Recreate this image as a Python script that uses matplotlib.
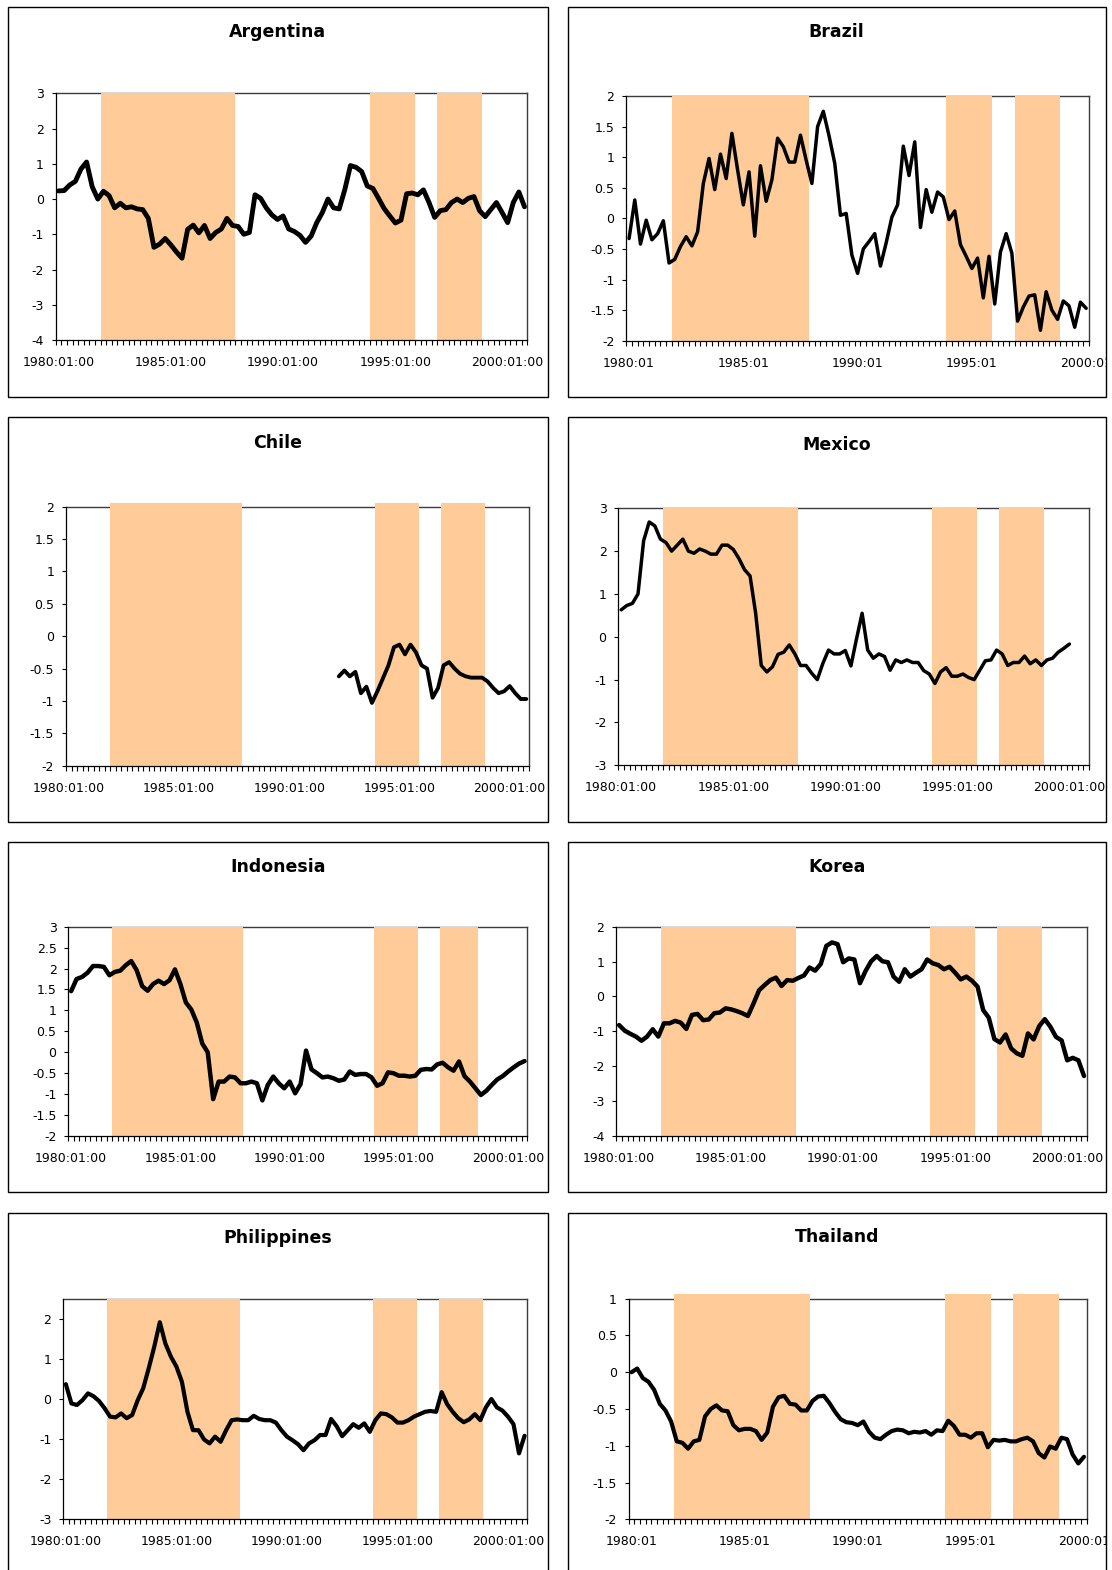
import matplotlib
matplotlib.use("Agg")
import matplotlib.pyplot as plt
from matplotlib.patches import Rectangle
from matplotlib.transforms import Bbox, TransformedBbox
from matplotlib.ticker import FuncFormatter
import numpy as np

plt.rcParams["font.family"] = ["DejaVu Sans"]
plt.rcParams["axes.unicode_minus"] = False

# Quarterly series, 1980:01 onwards (one value per quarter)
argentina = [0.23, 0.24, 0.40, 0.50, 0.85, 1.05, 0.35, 0.00, 0.22, 0.10,
             -0.25, -0.12, -0.25, -0.22, -0.28, -0.30, -0.55, -1.37, -1.28, -1.12,
             -1.30, -1.50, -1.68, -0.86, -0.74, -0.96, -0.75, -1.12, -0.95, -0.85,
             -0.55, -0.75, -0.78, -1.00, -0.95, 0.12, 0.02, -0.25, -0.45, -0.58,
             -0.48, -0.85, -0.92, -1.03, -1.23, -1.05, -0.67, -0.38, 0.00, -0.25,
             -0.28, 0.27, 0.95, 0.90, 0.78, 0.37, 0.30, 0.02, -0.27, -0.48,
             -0.68, -0.60, 0.15, 0.17, 0.12, 0.26, -0.10, -0.52, -0.33, -0.30,
             -0.10, 0.00, -0.10, 0.02, 0.07, -0.33, -0.50, -0.30, -0.10, -0.38,
             -0.67, -0.10, 0.20, -0.22]

brazil = [-0.33, 0.30, -0.42, -0.03, -0.35, -0.25, -0.04, -0.73, -0.67, -0.46,
          -0.30, -0.45, -0.22, 0.57, 0.98, 0.47, 1.05, 0.65, 1.39, 0.79,
          0.22, 0.76, -0.29, 0.86, 0.28, 0.63, 1.31, 1.17, 0.92, 0.92,
          1.36, 0.95, 0.57, 1.50, 1.75, 1.35, 0.90, 0.05, 0.08, -0.60,
          -0.90, -0.50, -0.38, -0.25, -0.78, -0.40, 0.02, 0.22, 1.18, 0.70,
          1.25, -0.15, 0.47, 0.10, 0.43, 0.35, -0.02, 0.12, -0.43, -0.62,
          -0.82, -0.65, -1.30, -0.62, -1.40, -0.55, -0.25, -0.57, -1.68, -1.45,
          -1.27, -1.25, -1.83, -1.20, -1.50, -1.65, -1.35, -1.43, -1.78, -1.37,
          -1.47]

# Chile series begins in 1992:02
chile = [None] * 49 + [
    -0.62, -0.53, -0.62, -0.55, -0.88, -0.78, -1.03, -0.85, -0.65, -0.45,
    -0.17, -0.13, -0.28, -0.13, -0.25, -0.45, -0.50, -0.95, -0.80, -0.45,
    -0.40, -0.50, -0.58, -0.62, -0.64, -0.64, -0.64, -0.70, -0.80, -0.88,
    -0.85, -0.77, -0.88, -0.97, -0.97]

mexico = [0.63, 0.73, 0.78, 1.00, 2.24, 2.68, 2.59, 2.28, 2.20, 2.00,
          2.14, 2.28, 2.00, 1.95, 2.05, 2.00, 1.93, 1.93, 2.14, 2.14,
          2.04, 1.83, 1.57, 1.42, 0.55, -0.67, -0.82, -0.70, -0.41, -0.36,
          -0.19, -0.40, -0.67, -0.67, -0.85, -1.00, -0.62, -0.31, -0.40, -0.40,
          -0.32, -0.68, -0.05, 0.55, -0.31, -0.50, -0.40, -0.46, -0.78, -0.54,
          -0.60, -0.54, -0.60, -0.60, -0.79, -0.87, -1.09, -0.82, -0.72, -0.92,
          -0.92, -0.87, -0.95, -1.00, -0.78, -0.56, -0.54, -0.31, -0.40, -0.67,
          -0.60, -0.60, -0.45, -0.63, -0.54, -0.67, -0.54, -0.50, -0.36, -0.27,
          -0.17, None, None, None]

indonesia = [1.46, 1.75, 1.80, 1.90, 2.06, 2.06, 2.04, 1.84, 1.92, 1.95,
             2.08, 2.18, 1.96, 1.58, 1.47, 1.63, 1.71, 1.63, 1.72, 1.98,
             1.63, 1.19, 1.02, 0.71, 0.21, 0.00, -1.12, -0.70, -0.70, -0.58,
             -0.60, -0.74, -0.74, -0.70, -0.74, -1.15, -0.78, -0.58, -0.74, -0.86,
             -0.70, -0.98, -0.76, 0.04, -0.41, -0.50, -0.60, -0.58, -0.62, -0.68,
             -0.65, -0.46, -0.54, -0.52, -0.52, -0.60, -0.80, -0.74, -0.48, -0.50,
             -0.56, -0.56, -0.58, -0.56, -0.42, -0.40, -0.41, -0.29, -0.25, -0.36,
             -0.44, -0.22, -0.57, -0.70, -0.86, -1.02, -0.92, -0.78, -0.65, -0.57,
             -0.46, -0.36, -0.27, -0.21]

korea = [-0.82, -0.98, -1.07, -1.15, -1.27, -1.15, -0.94, -1.15, -0.77, -0.77,
         -0.70, -0.75, -0.93, -0.53, -0.50, -0.68, -0.66, -0.48, -0.46, -0.34,
         -0.37, -0.42, -0.48, -0.56, -0.20, 0.18, 0.33, 0.47, 0.54, 0.30,
         0.47, 0.45, 0.53, 0.60, 0.83, 0.74, 0.93, 1.45, 1.55, 1.50,
         0.98, 1.09, 1.06, 0.38, 0.73, 1.01, 1.16, 1.01, 0.98, 0.57,
         0.42, 0.78, 0.57, 0.68, 0.78, 1.06, 0.95, 0.90, 0.78, 0.85,
         0.68, 0.49, 0.57, 0.45, 0.28, -0.39, -0.61, -1.22, -1.32, -1.09,
         -1.49, -1.63, -1.70, -1.06, -1.23, -0.85, -0.65, -0.87, -1.16, -1.26,
         -1.83, -1.76, -1.83, -2.28]

philippines = [0.37, -0.11, -0.15, -0.03, 0.14, 0.07, -0.05, -0.23, -0.44, -0.46,
               -0.36, -0.48, -0.40, -0.03, 0.27, 0.77, 1.31, 1.92, 1.39, 1.06,
               0.81, 0.43, -0.32, -0.78, -0.78, -1.01, -1.11, -0.94, -1.07, -0.78,
               -0.53, -0.51, -0.53, -0.53, -0.42, -0.50, -0.53, -0.53, -0.59, -0.78,
               -0.94, -1.03, -1.13, -1.28, -1.11, -1.03, -0.90, -0.90, -0.50, -0.68,
               -0.93, -0.78, -0.63, -0.72, -0.61, -0.82, -0.53, -0.36, -0.38, -0.46,
               -0.59, -0.59, -0.53, -0.44, -0.38, -0.32, -0.30, -0.32, 0.17, -0.13,
               -0.32, -0.48, -0.58, -0.51, -0.38, -0.53, -0.21, 0.00, -0.21, -0.29,
               -0.44, -0.63, -1.36, -0.92]

thailand = [0.00, 0.05, -0.08, -0.13, -0.24, -0.43, -0.52, -0.67, -0.94, -0.96,
            -1.04, -0.94, -0.92, -0.60, -0.50, -0.45, -0.52, -0.53, -0.72, -0.79,
            -0.77, -0.77, -0.80, -0.92, -0.82, -0.47, -0.34, -0.32, -0.43, -0.44,
            -0.52, -0.52, -0.39, -0.33, -0.32, -0.42, -0.54, -0.64, -0.68, -0.69,
            -0.72, -0.67, -0.81, -0.89, -0.91, -0.85, -0.80, -0.78, -0.79, -0.83,
            -0.81, -0.82, -0.80, -0.85, -0.79, -0.80, -0.66, -0.73, -0.85, -0.85,
            -0.89, -0.83, -0.83, -1.02, -0.92, -0.93, -0.92, -0.94, -0.94, -0.91,
            -0.89, -0.94, -1.10, -1.16, -1.01, -1.04, -0.89, -0.91, -1.12, -1.24,
            -1.15]

# Axis tick labels
labels_long = ["1980:01:00", "1985:01:00", "1990:01:00", "1995:01:00", "2000:01:00"]
labels_short = ["1980:01", "1985:01", "1990:01", "1995:01", "2000:01"]

# Shaded episodes, as quarter-index ranges from 1980:01
episodes = [(8, 32), (56, 64), (68, 76)]
episodes_indonesia = [(8, 32), (56, 64), (68, 75)]

SHADE = "#FFCC99"
W, H = 1112, 1570

fig = plt.figure(figsize=(W / 100, H / 100), dpi=100)
fig.patch.set_facecolor("white")


def fig_rect(L, T, R, B):
    return [L / W, 1 - B / H, (R - L) / W, (B - T) / H]


LEFT_BOX = (7.5, 548)
RIGHT_BOX = (567.5, 1106)
ROWS = [(6.7, 396.7), (416.5, 822), (841.7, 1192), (1212.7, 1590)]

panels = [
    dict(title="Argentina", data=argentina, ylim=(-4, 3), yticks=np.arange(-4, 3.01, 1),
         shade=episodes, top=3, lw=3.5, xl=labels_long,
         plot=(55.7, 93.3, 527.3, 340), box=LEFT_BOX, row=0, ty=32),
    dict(title="Brazil", data=brazil, ylim=(-2, 2), yticks=np.arange(-2, 2.01, 0.5),
         shade=episodes, top=2, lw=2.5, xl=labels_short,
         plot=(626.2, 96, 1089, 340.7), box=RIGHT_BOX, row=0, ty=32),
    dict(title="Chile", data=chile, ylim=(-2, 2), yticks=np.arange(-2, 2.01, 0.5),
         shade=episodes, top=2.056, lw=2.8, xl=labels_long,
         plot=(66, 506.7, 529, 765.7), box=LEFT_BOX, row=1, ty=443),
    dict(title="Mexico", data=mexico, ylim=(-3, 3), yticks=np.arange(-3, 3.01, 1),
         shade=episodes, top=3, lw=2.5, xl=labels_long,
         plot=(618.4, 508.3, 1089, 765.3), box=RIGHT_BOX, row=1, ty=445),
    dict(title="Indonesia", data=indonesia, ylim=(-2, 3), yticks=np.arange(-2, 3.01, 0.5),
         shade=episodes_indonesia, top=3, lw=3.2, xl=labels_long,
         plot=(68.4, 926.7, 527.3, 1136), box=LEFT_BOX, row=2, ty=866.7),
    dict(title="Korea", data=korea, ylim=(-4, 2), yticks=np.arange(-4, 2.01, 1),
         shade=episodes, top=2, lw=3.2, xl=labels_long,
         plot=(616.3, 926.7, 1086.8, 1136), box=RIGHT_BOX, row=2, ty=866.7),
    dict(title="Philippines", data=philippines, ylim=(-3, 2.5), yticks=np.arange(-3, 2.01, 1),
         shade=episodes, top=2.5, lw=3.0, xl=labels_long,
         plot=(63.1, 1299, 527.3, 1519), box=LEFT_BOX, row=3, ty=1238),
    dict(title="Thailand", data=thailand, ylim=(-2, 1), yticks=np.arange(-2, 1.01, 0.5),
         shade=episodes, top=1.063, lw=3.0, xl=labels_short,
         plot=(628.7, 1298.7, 1086.8, 1519.3), box=RIGHT_BOX, row=3, ty=1237),
]

fmt = FuncFormatter(lambda v, _: f"{v:g}")

for p in panels:
    bl, br = p["box"]
    bt, bb = ROWS[p["row"]]

    # chart frame
    fig.add_artist(Rectangle((bl / W, 1 - bb / H), (br - bl) / W, (bb - bt) / H,
                             transform=fig.transFigure, fill=False,
                             edgecolor="black", linewidth=1.0, zorder=0))
    fig.text(((bl + br) / 2) / W, 1 - p["ty"] / H, p["title"], ha="center", va="center",
             fontsize=12.5, fontweight="bold")

    vals = np.array([np.nan if v is None else v for v in p["data"]], dtype=float)
    n = len(vals)
    ylo, yhi = p["ylim"]

    ax = fig.add_axes(fig_rect(*p["plot"]))
    ax.set_xlim(0, n)
    ax.set_ylim(ylo, yhi)

    for a, b in p["shade"]:
        ax.bar(a, p["top"] - ylo, width=b - a, bottom=ylo, align="edge",
               color=SHADE, linewidth=0, clip_on=False, zorder=2)

    x = np.arange(n) + 0.5
    ax.plot(x, vals, color="black", linewidth=p["lw"], solid_joinstyle="round",
            solid_capstyle="round", zorder=3)

    ax.set_yticks(p["yticks"])
    ax.yaxis.set_major_formatter(fmt)
    ax.set_xticks(x[::20])
    ax.set_xticklabels(p["xl"])
    ax.set_xticks(np.arange(n + 1), minor=True)
    ax.tick_params(axis="x", which="major", length=0, pad=11.5, labelsize=9, colors="black")
    ax.tick_params(axis="x", which="minor", length=3.6, width=0.8, direction="out")
    ax.tick_params(axis="y", which="major", length=3.0, width=0.8, direction="out",
                   pad=5.5, labelsize=9)

    for side in ("left", "bottom"):
        ax.spines[side].set_color("black")
        ax.spines[side].set_linewidth(0.9)
    for side in ("top", "right"):
        ax.spines[side].set_color("#3c3c3c")
        ax.spines[side].set_linewidth(1.0)
    ax.spines["top"].set_zorder(1)

    # keep the date labels inside the chart frame
    clip = TransformedBbox(Bbox.from_extents(bl / W, 1 - bb / H, br / W, 1 - bt / H),
                           fig.transFigure)
    for t in ax.xaxis.get_major_ticks():
        t.label1.set_clip_on(True)
        t.label1.set_clip_box(clip)

fig.savefig("out.png", dpi=100, facecolor="white")
